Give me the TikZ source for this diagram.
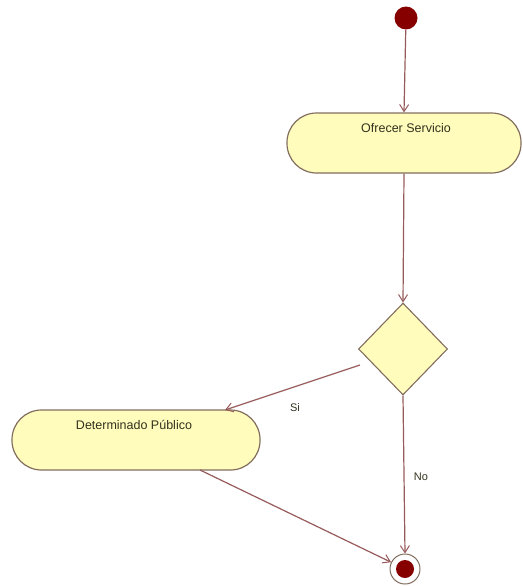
\documentclass[tikz,border=0pt]{standalone}
\usepackage{fontspec}
\setmainfont{Liberation Sans}
\usetikzlibrary{arrows.meta,shapes.geometric,calc}
\definecolor{actfill}{RGB}{255,252,188}
\definecolor{actdraw}{RGB}{130,110,95}
\definecolor{flow}{RGB}{150,90,90}
\definecolor{dot}{RGB}{135,0,0}
\definecolor{txt}{RGB}{50,50,30}
\tikzset{
  act/.style={draw=actdraw, fill=actfill, line width=1.2pt, rounded corners=29.5pt, inner sep=0pt},
  acttext/.style={text=txt, font=\fontsize{12.5}{14}\selectfont, inner sep=0pt},
  dec/.style={draw=actdraw, fill=actfill, line width=1.1pt, diamond, inner sep=0pt, minimum width=89pt, minimum height=92pt, aspect=1},
  flowline/.style={draw=flow, line width=1.2pt, -{Straight Barb[length=7pt,width=9pt,line width=1pt]}},
  lbl/.style={text=txt, font=\fontsize{11}{13}\selectfont, inner sep=0pt}
}
\begin{document}
\begin{tikzpicture}[x=1pt,y=-1pt]
\useasboundingbox (0,0) rectangle (522,586);
\node[circle, fill=dot, minimum size=23pt, inner sep=0pt] (start) at (406,18) {};
\node[act, minimum width=234pt, minimum height=60pt] (ofr) at (404,143) {};
\node[acttext] (ofrt) at (406,128) {Ofrecer Servicio};
\node[dec] (d) at (403,349) {};
\node[act, minimum width=248pt, minimum height=60pt] (det) at (136,440) {};
\node[acttext] (dett) at (134,425) {Determinado Público};
\node[circle, draw=actdraw, fill=white, line width=1pt, minimum size=30pt, inner sep=0pt] (end) at (405,569) {};
\node[circle, fill=dot, minimum size=18pt, inner sep=0pt] (endin) at (405,569) {};
\coordinate (sistart) at (360,365);
\coordinate (detbot) at (200,470);
\coordinate (detin) at (225,410);
\draw[flowline] (start) -- (ofr.north);
\draw[flowline] (ofr.south) -- (d.north);
\draw[flowline] (sistart) -- (detin);
\draw[flowline] (d.south) -- (end.north);
\draw[flowline] (detbot) -- (end.154);
\node[lbl] (si) at (295,408) {Si};
\node[lbl] (no) at (421,477) {No};
\end{tikzpicture}
\end{document}
